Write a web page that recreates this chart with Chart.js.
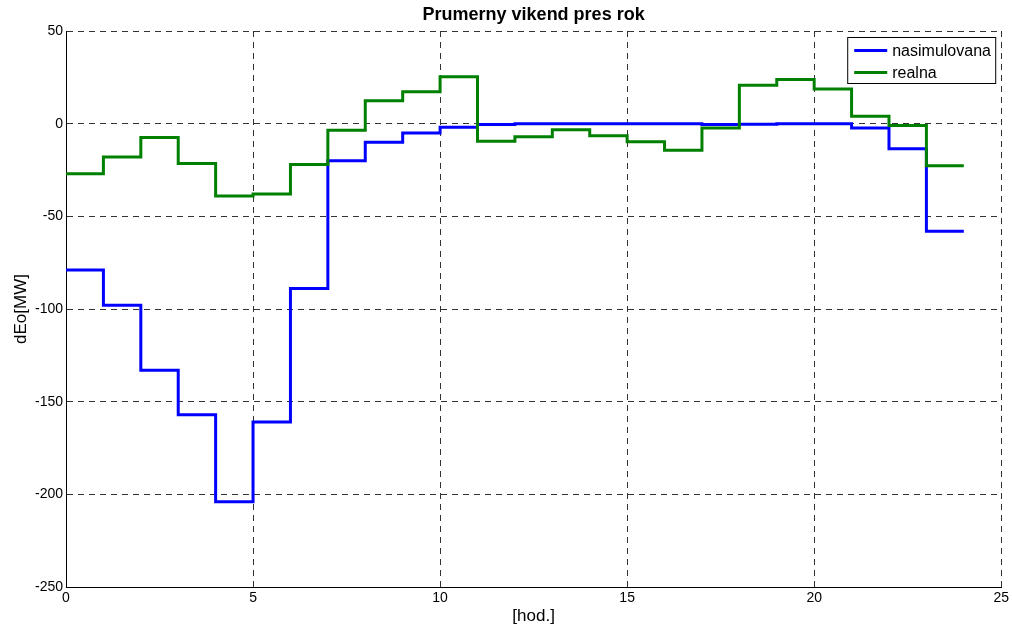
<!DOCTYPE html>
<html>
<head>
<meta charset="utf-8">
<script src="https://cdn.jsdelivr.net/npm/chart.js@4.4.1/dist/chart.umd.min.js"></script>
<style>
  html, body { margin: 0; padding: 0; background: #fff; }
  #wrap { width: 1012px; height: 627px; }
</style>
</head>
<body>
<div id="wrap"><canvas id="chart"></canvas></div>
<script>
// hour boundaries (stairs: value i holds from hour i to hour i+1, last value repeated at 24)
const hours = [0, 1, 2, 3, 4, 5, 6, 7, 8, 9, 10, 11, 12, 13, 14, 15, 16, 17, 18, 19, 20, 21, 22, 23, 24];
const simulated = [-79, -98, -133, -157, -204, -161, -89, -20, -10, -5, -2, -0.5, 0, 0, 0, 0, 0, -0.5, -0.3, 0, 0, -2.3, -13.5, -58, -58];
const real = [-27, -18, -7.5, -21.5, -39, -38, -22, -3.5, 12.3, 17.2, 25.3, -9.5, -7, -3.3, -6.5, -9.7, -14.3, -2.3, 20.7, 23.8, 18.7, 4, -1, -22.7, -22.7];
const seriesNames = ['nasimulovana', 'realna'];
const xTickValues = [0, 5, 10, 15, 20, 25];
const yTickValues = [-250, -200, -150, -100, -50, 0, 50];

const FONT = '"Liberation Sans", Arial, sans-serif';

const toPoints = ys => hours.map((h, i) => ({ x: h, y: ys[i] }));

// legend box drawn inside the plot, top-right (like MATLAB)
const boxLegend = {
  id: 'boxLegend',
  afterDraw(chart) {
    const { ctx, chartArea } = chart;
    const w = 148, h = 46;
    const x0 = chartArea.right - 6 - w, y0 = chartArea.top + 6;
    ctx.save();
    ctx.fillStyle = '#fff';
    ctx.fillRect(x0, y0, w, h);
    ctx.strokeStyle = '#000';
    ctx.lineWidth = 1;
    ctx.strokeRect(x0 + 0.5, y0 + 0.5, w, h);
    ctx.font = '16px ' + FONT;
    ctx.textBaseline = 'middle';
    chart.data.datasets.forEach((ds, i) => {
      const yy = y0 + 13.5 + i * 22;
      ctx.strokeStyle = ds.borderColor;
      ctx.lineWidth = 3;
      ctx.beginPath();
      ctx.moveTo(x0 + 7, yy);
      ctx.lineTo(x0 + 40, yy);
      ctx.stroke();
      ctx.fillStyle = '#000';
      ctx.fillText(ds.label, x0 + 45, yy + 1);
    });
    ctx.restore();
  }
};

new Chart(document.getElementById('chart'), {
  type: 'line',
  data: {
    datasets: [
      { label: seriesNames[0], data: toPoints(simulated), borderColor: '#0000ff', borderWidth: 3, stepped: true, pointRadius: 0, fill: false, order: 1 },
      { label: seriesNames[1], data: toPoints(real), borderColor: '#008000', borderWidth: 3, stepped: true, pointRadius: 0, fill: false, order: 0 },
    ],
  },
  options: {
    responsive: true,
    maintainAspectRatio: false,
    animation: false,
    layout: { padding: { left: 6, right: 10, top: 0, bottom: 0 } },
    plugins: {
      legend: { display: false },
      tooltip: { enabled: false },
      title: {
        display: true,
        fullSize: false,
        text: 'Prumerny vikend pres rok',
        color: '#000',
        font: { family: FONT, size: 18, weight: 'bold' },
        padding: { top: 4, bottom: 5.4 },
      },
    },
    scales: {
      x: {
        type: 'linear',
        min: 0, max: 25,
        afterBuildTicks: s => { s.ticks = xTickValues.map(v => ({ value: v })); },
        afterFit: s => { s.height = 40; },
        ticks: { color: '#000', font: { family: FONT, size: 14 }, padding: 3, maxRotation: 0 },
        grid: { color: '#333', lineWidth: 1, drawTicks: false },
        border: { display: true, color: '#000', width: 1, dash: [6, 5] },
        title: { display: true, text: '[hod.]', color: '#000', font: { family: FONT, size: 17 }, padding: { top: 0, bottom: 0 } },
      },
      y: {
        min: -250, max: 50,
        afterBuildTicks: s => { s.ticks = yTickValues.map(v => ({ value: v })); },
        afterFit: s => { s.width = 60; },
        ticks: { color: '#000', font: { family: FONT, size: 14 }, padding: 3 },
        grid: { color: '#333', lineWidth: 1, drawTicks: false },
        border: { display: true, color: '#000', width: 1, dash: [6, 5] },
        title: { display: true, text: 'dEo[MW]', color: '#000', font: { family: FONT, size: 17 }, padding: { top: 5, bottom: 0 } },
      },
    },
  },
  plugins: [boxLegend],
});
</script>
</body>
</html>
